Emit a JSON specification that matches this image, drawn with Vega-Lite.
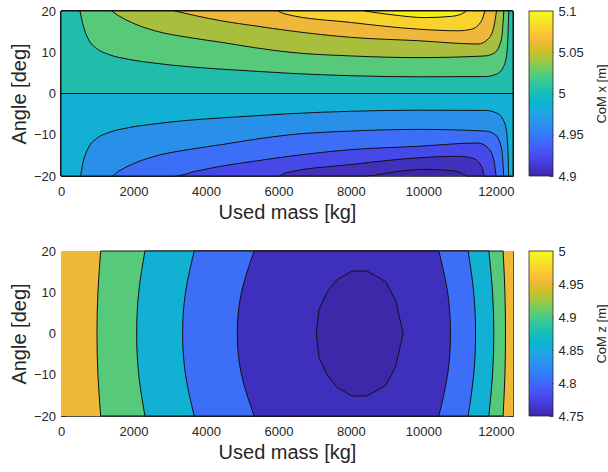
{
  "$schema": "https://vega.github.io/schema/vega-lite/v6.json",
  "background": "white",
  "padding": {"left": 9, "top": 5, "right": 5, "bottom": 5},
  "config": {
    "font": "Liberation Sans",
    "view": {"stroke": null},
    "axis": {
      "labelFont": "Liberation Sans", "labelFontSize": 13, "labelColor": "#262626",
      "titleFont": "Liberation Sans", "titleFontSize": 20, "titleFontWeight": "normal", "titleColor": "#262626",
      "domainColor": "#262626", "domainWidth": 0.8, "tickColor": "#262626", "tickWidth": 0.8,
      "tickSize": -4.5, "labelPadding": 10, "labelFlush": false, "grid": false, "zindex": 1
    }
  },
  "columns": 2,
  "spacing": {"row": 75, "column": 16},
  "bounds": "flush",
  "resolve": {"scale": {"x": "independent", "y": "independent", "color": "independent"}},
  "concat": [
    {
      "width": 452, "height": 165,
      "resolve": {"axis": {"x": "independent", "y": "independent"}},
      "layer": [
        {
          "data": {"values": [{"m0": 0, "m1": 12475, "a0": -20, "a1": 20}]},
          "mark": {"type": "rect", "color": "#3e26a8"},
          "encoding": {
            "x": {"field": "m0", "type": "quantitative", "scale": {"domain": [0, 12475], "nice": false, "zero": false},
                  "axis": {"orient": "bottom", "values": [0, 2000, 4000, 6000, 8000, 10000, 12000], "format": "d", "title": "Used mass [kg]", "labelPadding": 14}},
            "x2": {"field": "m1"},
            "y": {"field": "a0", "type": "quantitative", "scale": {"domain": [-20, 20], "nice": false, "zero": false},
                  "axis": {"orient": "left", "values": [-20, -10, 0, 10, 20], "title": "Angle [deg]"}},
            "y2": {"field": "a1"}
          }
        },
        {
          "data": {"values": [
            {"L": 4.9, "m": 0, "a": -20}, {"L": 4.9, "m": 8386, "a": -20}, {"L": 4.9, "m": 9214, "a": -19.0}, {"L": 4.9, "m": 10041, "a": -18.4}, {"L": 4.9, "m": 10778, "a": -18.7}, {"L": 4.9, "m": 11145, "a": -19.7}, {"L": 4.9, "m": 11191, "a": -20}, {"L": 4.9, "m": 12475, "a": -20},
            {"L": 4.92, "m": 0, "a": -20}, {"L": 4.92, "m": 5995, "a": -20}, {"L": 4.92, "m": 6179, "a": -19.3}, {"L": 4.92, "m": 8019, "a": -17.2}, {"L": 4.92, "m": 9857, "a": -15.6}, {"L": 4.92, "m": 10960, "a": -15.2}, {"L": 4.92, "m": 11330, "a": -15.6}, {"L": 4.92, "m": 11605, "a": -17.6}, {"L": 4.92, "m": 11697, "a": -20}, {"L": 4.92, "m": 12475, "a": -20},
            {"L": 4.94, "m": 0, "a": -20}, {"L": 4.94, "m": 3145, "a": -20}, {"L": 4.94, "m": 3697, "a": -18.9}, {"L": 4.94, "m": 4433, "a": -17.6}, {"L": 4.94, "m": 5352, "a": -16.4}, {"L": 4.94, "m": 6317, "a": -15.2}, {"L": 4.94, "m": 8019, "a": -13.6}, {"L": 4.94, "m": 9857, "a": -12.8}, {"L": 4.94, "m": 11512, "a": -12.0}, {"L": 4.94, "m": 11788, "a": -13.2}, {"L": 4.94, "m": 11953, "a": -16.4}, {"L": 4.94, "m": 12019, "a": -20}, {"L": 4.94, "m": 12475, "a": -20},
            {"L": 4.96, "m": 0, "a": -20}, {"L": 4.96, "m": 1399, "a": -20}, {"L": 4.96, "m": 1581, "a": -18.9}, {"L": 4.96, "m": 1950, "a": -17.2}, {"L": 4.96, "m": 2593, "a": -15.2}, {"L": 4.96, "m": 3512, "a": -13.6}, {"L": 4.96, "m": 4433, "a": -12.4}, {"L": 4.96, "m": 5352, "a": -11.1}, {"L": 4.96, "m": 6317, "a": -10.0}, {"L": 4.96, "m": 8019, "a": -9.1}, {"L": 4.96, "m": 9857, "a": -8.7}, {"L": 4.96, "m": 11697, "a": -9.1}, {"L": 4.96, "m": 11972, "a": -9.9}, {"L": 4.96, "m": 12157, "a": -13.2}, {"L": 4.96, "m": 12201, "a": -17.2}, {"L": 4.96, "m": 12221, "a": -20}, {"L": 4.96, "m": 12475, "a": -20},
            {"L": 4.98, "m": 0, "a": -20}, {"L": 4.98, "m": 524, "a": -20}, {"L": 4.98, "m": 615, "a": -16.4}, {"L": 4.98, "m": 753, "a": -13.2}, {"L": 4.98, "m": 985, "a": -10.9}, {"L": 4.98, "m": 1305, "a": -9.5}, {"L": 4.98, "m": 1857, "a": -8.3}, {"L": 4.98, "m": 2593, "a": -7.35}, {"L": 4.98, "m": 3512, "a": -6.5}, {"L": 4.98, "m": 4433, "a": -5.9}, {"L": 4.98, "m": 5352, "a": -5.4}, {"L": 4.98, "m": 6317, "a": -4.9}, {"L": 4.98, "m": 8019, "a": -4.3}, {"L": 4.98, "m": 9857, "a": -4.05}, {"L": 4.98, "m": 11697, "a": -4.1}, {"L": 4.98, "m": 12019, "a": -4.7}, {"L": 4.98, "m": 12201, "a": -6.3}, {"L": 4.98, "m": 12295, "a": -9.1}, {"L": 4.98, "m": 12339, "a": -14.8}, {"L": 4.98, "m": 12358, "a": -20}, {"L": 4.98, "m": 12475, "a": -20},
            {"L": 5.0, "m": 0, "a": 0}, {"L": 5.0, "m": 12475, "a": 0},
            {"L": 5.02, "m": 524, "a": 20}, {"L": 5.02, "m": 615, "a": 16.4}, {"L": 5.02, "m": 753, "a": 13.2}, {"L": 5.02, "m": 985, "a": 10.9}, {"L": 5.02, "m": 1305, "a": 9.5}, {"L": 5.02, "m": 1857, "a": 8.3}, {"L": 5.02, "m": 2593, "a": 7.35}, {"L": 5.02, "m": 3512, "a": 6.5}, {"L": 5.02, "m": 4433, "a": 5.9}, {"L": 5.02, "m": 5352, "a": 5.4}, {"L": 5.02, "m": 6317, "a": 4.9}, {"L": 5.02, "m": 8019, "a": 4.3}, {"L": 5.02, "m": 9857, "a": 4.05}, {"L": 5.02, "m": 11697, "a": 4.1}, {"L": 5.02, "m": 12019, "a": 4.7}, {"L": 5.02, "m": 12201, "a": 6.3}, {"L": 5.02, "m": 12295, "a": 9.1}, {"L": 5.02, "m": 12339, "a": 14.8}, {"L": 5.02, "m": 12358, "a": 20},
            {"L": 5.04, "m": 1399, "a": 20}, {"L": 5.04, "m": 1581, "a": 18.9}, {"L": 5.04, "m": 1950, "a": 17.2}, {"L": 5.04, "m": 2593, "a": 15.2}, {"L": 5.04, "m": 3512, "a": 13.6}, {"L": 5.04, "m": 4433, "a": 12.4}, {"L": 5.04, "m": 5352, "a": 11.1}, {"L": 5.04, "m": 6317, "a": 10.0}, {"L": 5.04, "m": 8019, "a": 9.1}, {"L": 5.04, "m": 9857, "a": 8.7}, {"L": 5.04, "m": 11697, "a": 9.1}, {"L": 5.04, "m": 11972, "a": 9.9}, {"L": 5.04, "m": 12157, "a": 13.2}, {"L": 5.04, "m": 12201, "a": 17.2}, {"L": 5.04, "m": 12221, "a": 20},
            {"L": 5.06, "m": 3145, "a": 20}, {"L": 5.06, "m": 3697, "a": 18.9}, {"L": 5.06, "m": 4433, "a": 17.6}, {"L": 5.06, "m": 5352, "a": 16.4}, {"L": 5.06, "m": 6317, "a": 15.2}, {"L": 5.06, "m": 8019, "a": 13.6}, {"L": 5.06, "m": 9857, "a": 12.8}, {"L": 5.06, "m": 11512, "a": 12.0}, {"L": 5.06, "m": 11788, "a": 13.2}, {"L": 5.06, "m": 11953, "a": 16.4}, {"L": 5.06, "m": 12019, "a": 20},
            {"L": 5.08, "m": 5995, "a": 20}, {"L": 5.08, "m": 6179, "a": 19.3}, {"L": 5.08, "m": 8019, "a": 17.2}, {"L": 5.08, "m": 9857, "a": 15.6}, {"L": 5.08, "m": 10960, "a": 15.2}, {"L": 5.08, "m": 11330, "a": 15.6}, {"L": 5.08, "m": 11605, "a": 17.6}, {"L": 5.08, "m": 11697, "a": 20},
            {"L": 5.1, "m": 8386, "a": 20}, {"L": 5.1, "m": 9214, "a": 19.0}, {"L": 5.1, "m": 10041, "a": 18.4}, {"L": 5.1, "m": 10778, "a": 18.7}, {"L": 5.1, "m": 11145, "a": 19.7}, {"L": 5.1, "m": 11191, "a": 20}
          ]},
          "mark": {"type": "area", "orient": "vertical", "interpolate": "monotone", "stroke": "#111111", "strokeWidth": 1},
          "encoding": {
            "x": {"field": "m", "type": "quantitative", "scale": {"domain": [0, 12475], "nice": false, "zero": false},
                  "axis": {"orient": "top", "values": [0, 2000, 4000, 6000, 8000, 10000, 12000], "labels": false, "title": null}},
            "y": {"field": "a", "type": "quantitative", "stack": null, "scale": {"domain": [-20, 20], "nice": false, "zero": false},
                  "axis": {"orient": "right", "values": [-20, -10, 0, 10, 20], "labels": false, "title": null}},
            "y2": {"datum": 20},
            "color": {"field": "L", "type": "ordinal", "legend": null,
                      "scale": {"domain": [4.9, 4.92, 4.94, 4.96, 4.98, 5.0, 5.02, 5.04, 5.06, 5.08, 5.1],
                                "range": ["#4030bb", "#4649e8", "#3d6ef7", "#2990ea", "#12b1d4", "#21bcac", "#57c97a", "#a8be3c", "#f0b83b", "#f9d32d", "#f5ee18"]}}
          }
        }
      ]
    },
    {
      "width": 24, "height": 165,
      "data": {"values": [{"lo": 4.9, "hi": 5.1}]},
      "mark": {"type": "rect", "stroke": "#262626", "strokeWidth": 0.8,
               "fill": {"gradient": "linear", "x1": 0, "y1": 1, "x2": 0, "y2": 0, "stops": [
                 {"offset": 0, "color": "#3e26a8"}, {"offset": 0.0635, "color": "#4537d5"}, {"offset": 0.127, "color": "#484df0"},
                 {"offset": 0.1905, "color": "#4563fd"}, {"offset": 0.254, "color": "#327cfc"}, {"offset": 0.3175, "color": "#2b91ef"},
                 {"offset": 0.381, "color": "#20a5e3"}, {"offset": 0.4444, "color": "#08b5d0"}, {"offset": 0.5079, "color": "#19bfb6"},
                 {"offset": 0.5714, "color": "#37c897"}, {"offset": 0.6349, "color": "#64cd6f"}, {"offset": 0.6984, "color": "#9dc943"},
                 {"offset": 0.7619, "color": "#d1bf27"}, {"offset": 0.8254, "color": "#f8ba3d"}, {"offset": 0.8889, "color": "#fccf30"},
                 {"offset": 0.9524, "color": "#f5e924"}, {"offset": 1, "color": "#f9fb15"}]}},
      "encoding": {
        "x": {"datum": 0, "type": "quantitative", "scale": {"domain": [0, 1], "nice": false}, "axis": null},
        "x2": {"datum": 1},
        "y": {"field": "lo", "type": "quantitative", "scale": {"domain": [4.9, 5.1], "nice": false, "zero": false},
              "axis": {"orient": "right", "values": [4.9, 4.95, 5, 5.05, 5.1], "format": "~g", "title": "CoM x [m]",
                       "titleFontSize": 13, "titleAngle": 270, "titleBaseline": "top", "titlePadding": 12, "domain": false, "tickSize": -4, "labelPadding": 9}},
        "y2": {"field": "hi"}
      }
    },
    {
      "width": 452, "height": 165,
      "resolve": {"axis": {"x": "independent", "y": "independent"}},
      "layer": [
        {
          "data": {"values": [{"m0": 0, "m1": 12475, "a0": -20, "a1": 20}]},
          "mark": {"type": "rect", "color": "#efb836"},
          "encoding": {
            "x": {"field": "m0", "type": "quantitative", "scale": {"domain": [0, 12475], "nice": false, "zero": false},
                  "axis": {"orient": "bottom", "values": [0, 2000, 4000, 6000, 8000, 10000, 12000], "format": "d", "title": "Used mass [kg]", "labelPadding": 14}},
            "x2": {"field": "m1"},
            "y": {"field": "a0", "type": "quantitative", "scale": {"domain": [-20, 20], "nice": false, "zero": false},
                  "axis": {"orient": "left", "values": [-20, -10, 0, 10, 20], "title": "Angle [deg]"}},
            "y2": {"field": "a1"}
          }
        },
        {
          "data": {"values": [
            {"lev": 4.9, "a": -20, "lo": 1095, "hi": 12202}, {"lev": 4.9, "a": -10, "lo": 1019, "hi": 12252}, {"lev": 4.9, "a": 0, "lo": 993, "hi": 12268}, {"lev": 4.9, "a": 10, "lo": 1019, "hi": 12252}, {"lev": 4.9, "a": 20, "lo": 1095, "hi": 12202},
            {"lev": 4.85, "a": -20, "lo": 2317, "hi": 11808}, {"lev": 4.85, "a": -10, "lo": 2145, "hi": 11911}, {"lev": 4.85, "a": 0, "lo": 2088, "hi": 11945}, {"lev": 4.85, "a": 10, "lo": 2145, "hi": 11911}, {"lev": 4.85, "a": 20, "lo": 2317, "hi": 11808},
            {"lev": 4.8, "a": -20, "lo": 3677, "hi": 11236}, {"lev": 4.8, "a": -10, "lo": 3437, "hi": 11390}, {"lev": 4.8, "a": 0, "lo": 3357, "hi": 11441}, {"lev": 4.8, "a": 10, "lo": 3437, "hi": 11390}, {"lev": 4.8, "a": 20, "lo": 3677, "hi": 11236},
            {"lev": 4.76, "a": -20, "lo": 5332, "hi": 10428}, {"lev": 4.76, "a": -10, "lo": 4981, "hi": 10670}, {"lev": 4.76, "a": 0, "lo": 4864, "hi": 10750}, {"lev": 4.76, "a": 10, "lo": 4981, "hi": 10670}, {"lev": 4.76, "a": 20, "lo": 5332, "hi": 10428}
          ]},
          "mark": {"type": "area", "orient": "horizontal", "interpolate": "natural", "stroke": "#111111", "strokeWidth": 1},
          "encoding": {
            "y": {"field": "a", "type": "quantitative", "scale": {"domain": [-20, 20], "nice": false, "zero": false},
                  "axis": {"orient": "right", "values": [-20, -10, 0, 10, 20], "labels": false, "title": null}},
            "x": {"field": "lo", "type": "quantitative", "stack": null, "scale": {"domain": [0, 12475], "nice": false, "zero": false},
                  "axis": {"orient": "top", "values": [0, 2000, 4000, 6000, 8000, 10000, 12000], "labels": false, "title": null}},
            "x2": {"field": "hi"},
            "color": {"field": "lev", "type": "ordinal", "legend": null,
                      "scale": {"domain": [4.9, 4.85, 4.8, 4.76], "range": ["#57c97a", "#12b1d4", "#3d6ef7", "#3f2fbd"]}}
          }
        },
        {
          "data": {"values": [
            {"m": 7043, "lo": 0, "hi": 0}, {"m": 7117, "lo": -5.7, "hi": 5.7}, {"m": 7347, "lo": -10.1, "hi": 10.1}, {"m": 7623, "lo": -13.1, "hi": 13.1},
            {"m": 8036, "lo": -15.15, "hi": 15.15}, {"m": 8450, "lo": -15.15, "hi": 15.15}, {"m": 8957, "lo": -12.6, "hi": 12.6}, {"m": 9233, "lo": -8.1, "hi": 8.1}, {"m": 9443, "lo": 0, "hi": 0}
          ]},
          "mark": {"type": "area", "orient": "vertical", "interpolate": "linear", "fill": "#3d28aa", "stroke": "#111111", "strokeWidth": 1},
          "encoding": {
            "x": {"field": "m", "type": "quantitative", "scale": {"domain": [0, 12475], "nice": false, "zero": false}, "axis": null},
            "y": {"field": "lo", "type": "quantitative", "stack": null, "scale": {"domain": [-20, 20], "nice": false, "zero": false}, "axis": null},
            "y2": {"field": "hi"}
          }
        }
      ]
    },
    {
      "width": 24, "height": 165,
      "data": {"values": [{"lo": 4.75, "hi": 5.0}]},
      "mark": {"type": "rect", "stroke": "#262626", "strokeWidth": 0.8,
               "fill": {"gradient": "linear", "x1": 0, "y1": 1, "x2": 0, "y2": 0, "stops": [
                 {"offset": 0, "color": "#3e26a8"}, {"offset": 0.0635, "color": "#4537d5"}, {"offset": 0.127, "color": "#484df0"},
                 {"offset": 0.1905, "color": "#4563fd"}, {"offset": 0.254, "color": "#327cfc"}, {"offset": 0.3175, "color": "#2b91ef"},
                 {"offset": 0.381, "color": "#20a5e3"}, {"offset": 0.4444, "color": "#08b5d0"}, {"offset": 0.5079, "color": "#19bfb6"},
                 {"offset": 0.5714, "color": "#37c897"}, {"offset": 0.6349, "color": "#64cd6f"}, {"offset": 0.6984, "color": "#9dc943"},
                 {"offset": 0.7619, "color": "#d1bf27"}, {"offset": 0.8254, "color": "#f8ba3d"}, {"offset": 0.8889, "color": "#fccf30"},
                 {"offset": 0.9524, "color": "#f5e924"}, {"offset": 1, "color": "#f9fb15"}]}},
      "encoding": {
        "x": {"datum": 0, "type": "quantitative", "scale": {"domain": [0, 1], "nice": false}, "axis": null},
        "x2": {"datum": 1},
        "y": {"field": "lo", "type": "quantitative", "scale": {"domain": [4.75, 5.0], "nice": false, "zero": false},
              "axis": {"orient": "right", "values": [4.75, 4.8, 4.85, 4.9, 4.95, 5], "format": "~g", "title": "CoM z [m]",
                       "titleFontSize": 13, "titleAngle": 270, "titleBaseline": "top", "titlePadding": 12, "domain": false, "tickSize": -4, "labelPadding": 9}},
        "y2": {"field": "hi"}
      }
    }
  ]
}
